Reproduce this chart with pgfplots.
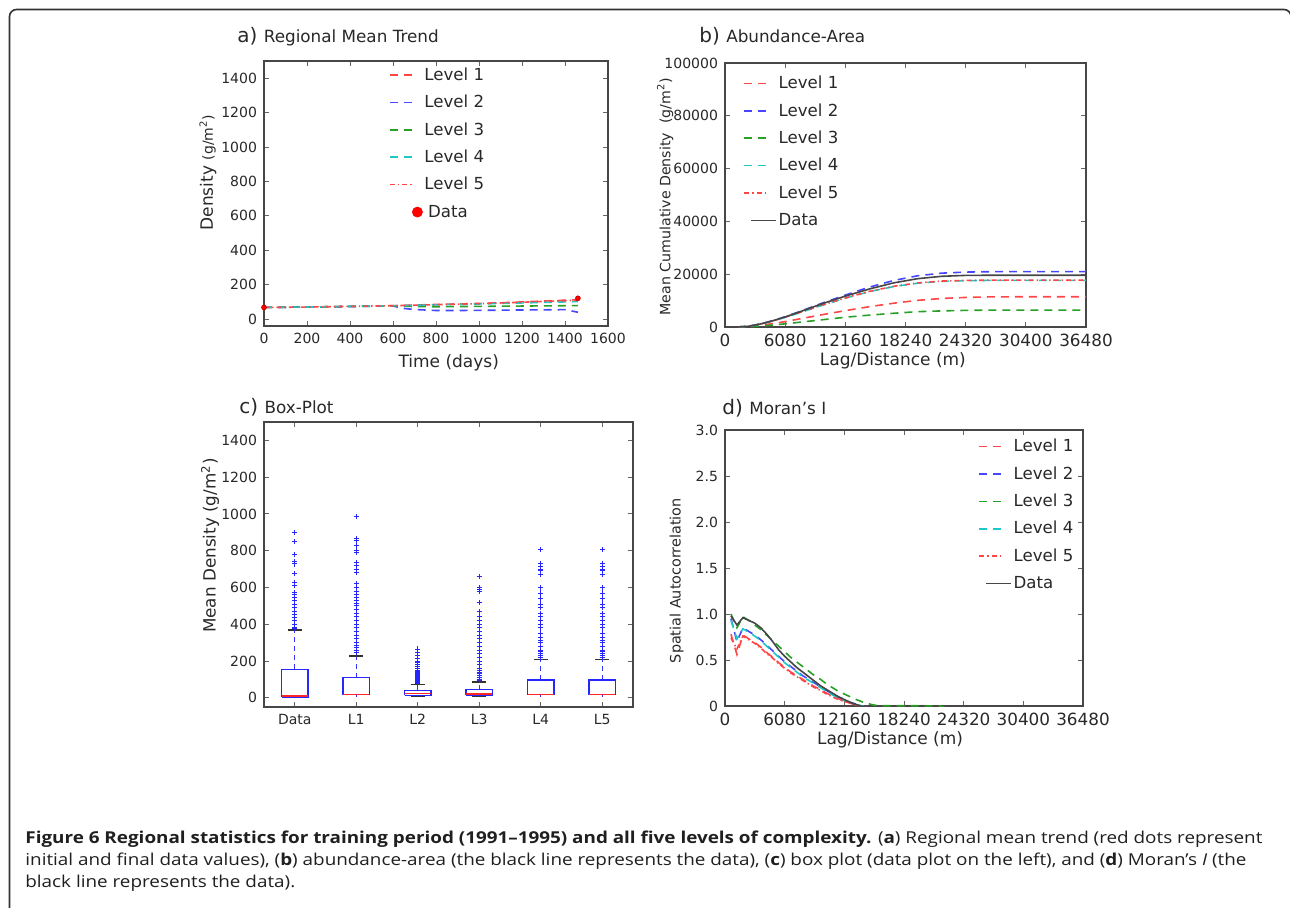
\documentclass[border=0pt]{standalone}
\usepackage{fontspec}
\setmainfont{DejaVu Sans}
\newfontfamily\capfont{Open Sans}
\usepackage{graphicx}
\usepackage{pgfplots}
\pgfplotsset{compat=1.18}
\definecolor{cL1}{RGB}{255,70,70}
\definecolor{cL2}{RGB}{70,70,255}
\definecolor{cL3}{RGB}{40,160,40}
\definecolor{cL4}{RGB}{30,200,200}
\definecolor{cL5}{RGB}{255,70,70}
\definecolor{cData}{RGB}{70,70,70}
\definecolor{txt}{RGB}{40,40,40}
\pgfplotsset{
  legend image code/.code={\path[draw=none,fill=none] (0pt,0pt) -- (17.3pt,0pt); \draw[#1] (0pt,0pt) -- (12.2pt,0pt);},
  every axis/.append style={
    scale only axis,
    axis line style={black!72, line width=0.75pt},
    tick style={black!60, line width=0.45pt},
    major tick length=2.5pt,
    tick align=inside,
    every tick label/.append style={font=\fontsize{7}{8}\selectfont, text=txt},
    /pgf/number format/assume math mode=true,
    /pgf/number format/fixed,
    /pgf/number format/1000 sep={},
    scaled ticks=false,
    label style={font=\fontsize{8.5}{10}\selectfont, text=txt},
    legend style={draw=none, fill=none, inner sep=0pt, outer sep=0pt,
      font=\fontsize{8.3}{10}\selectfont, row sep=6.5pt, column sep=0pt,
      nodes={inner sep=0pt, text height=6.2pt, text depth=1pt, text=txt}},
    legend cell align=left,
  },
  L1/.style={cL1, line width=0.8pt, dash pattern=on 4pt off 3pt},
  L2/.style={cL2, line width=0.8pt, dash pattern=on 4pt off 3pt},
  L3/.style={cL3, line width=0.8pt, dash pattern=on 4pt off 3pt},
  L4/.style={cL4, line width=0.8pt, dash pattern=on 4pt off 3pt},
  L5/.style={cL5, line width=0.8pt, dash pattern=on 2.5pt off 1.5pt on 0.7pt off 1.5pt},
  LD/.style={cData, line width=0.8pt},
  datalegend/.style={legend image code/.code={\path[draw=none,fill=none] (0pt,0pt) -- (17.3pt,0pt); \draw[cData, line width=0.8pt, solid] (3.5pt,0pt) -- (16pt,0pt);}},
  bx/.style={blue!85, line width=0.7pt, line join=miter},
  md/.style={red!85, line width=0.7pt},
  wk/.style={blue!80, line width=0.7pt, dash pattern=on 2.5pt off 2pt},
  cp/.style={black!80, line width=0.7pt},
  ol/.style={only marks, mark=+, mark size=1.3pt, mark options={blue!85, line width=0.5pt}},
}
\newlength\caplen
\newcommand\lineone{{\bfseries Figure 6 Regional statistics for training period (1991–1995) and all five levels of complexity.} ({\bfseries a}) Regional mean trend (red dots represent}
\newcommand\linetwo{initial and final data values), ({\bfseries b}) abundance-area (the black line represents the data), ({\bfseries c}) box plot (data plot on the left), and ({\bfseries d}) Moran’s {\itshape I} (the}
\newcommand\linethree{black line represents the data).}
\newcommand\capfs{\capfont\fontsize{8.2}{9}\selectfont}
\begin{document}
\settowidth\caplen{\capfs\lineone}%
\pgfmathsetmacro\capscale{618.5pt/\caplen}%
\begin{tikzpicture}[x=0.5pt, y=0.5pt]
\useasboundingbox (0,0) rectangle (1290,907);
% frame
\draw[line width=0.8pt, black!80, rounded corners=3.5pt] (9.5,-10) -- (9.5,897.5) -- (1291,897.5) -- (1291,-10);
% titles
\node[anchor=base west, inner sep=0, text=txt] at (237,864) {{\fontsize{10}{12}\selectfont a)} {\fontsize{8.4}{10}\selectfont Regional Mean Trend}};
\node[anchor=base west, inner sep=0, text=txt] at (699,864) {{\fontsize{10}{12}\selectfont b)} {\fontsize{8.4}{10}\selectfont Abundance-Area}};
\node[anchor=base west, inner sep=0, text=txt] at (239,494) {{\fontsize{10}{12}\selectfont c)} {\fontsize{8.4}{10}\selectfont Box-Plot}};
\node[anchor=base west, inner sep=0, text=txt] at (722,493) {{\fontsize{10}{12}\selectfont d)} {\fontsize{8.4}{10}\selectfont Moran's I}};
% caption
\node[anchor=base west, inner sep=0, text=black!88] at (25,64) {\scalebox{\capscale}[1]{\capfs\lineone}};
\node[anchor=base west, inner sep=0, text=black!88] at (25,42) {\scalebox{\capscale}[1]{\capfs\linetwo}};
\node[anchor=base west, inner sep=0, text=black!88] at (25,20) {\scalebox{\capscale}[1]{\capfs\linethree}};

%%%%% a
\begin{axis}[at={(132pt,290.5pt)}, anchor=south west, width=172pt, height=132.5pt,
  xmin=0, xmax=1600, ymin=-40, ymax=1500,
  xtick={0,200,...,1600}, ytick={0,200,...,1400},
  xlabel={Time (days)},
  ylabel={Density {\fontsize{7}{8}\selectfont(g/m\textsuperscript{2})}},
  xlabel style={at={(axis description cs:0.537,-0.14)}, anchor=center},
  ylabel style={at={(axis description cs:-0.163,0.579)}, anchor=center},
  legend style={at={(0.3634,0.974)}, anchor=north west}]
\addplot[L1] coordinates {(0,68)(100,69)(200,70)(300,72)(400,74)(500,76)(600,78)(700,82)(800,85)(900,88)(1000,91)(1100,95)(1200,100)(1300,105)(1400,110)(1460,113)};
\addlegendentry{Level 1}
\addplot[L2] coordinates {(0,68)(100,69)(200,70)(300,71)(400,73)(500,75)(600,76)(650,62)(700,56)(800,50)(900,50)(1000,51)(1100,52)(1200,53)(1300,54)(1400,55)(1460,40)};
\addlegendentry{Level 2}
\addplot[L3] coordinates {(0,68)(100,69)(200,70)(300,72)(400,74)(500,75)(600,77)(700,73)(800,72)(900,73)(1000,74)(1100,75)(1200,76)(1300,77)(1400,78)(1460,78)};
\addlegendentry{Level 3}
\addplot[L4] coordinates {(0,68)(100,69)(200,70)(300,72)(400,74)(500,76)(600,78)(700,80)(800,83)(900,86)(1000,88)(1100,91)(1200,94)(1300,97)(1400,100)(1460,102)};
\addlegendentry{Level 4}
\addplot[L5] coordinates {(0,68)(100,69)(200,70)(300,72)(400,74)(500,76)(600,78)(700,81)(800,84)(900,87)(1000,90)(1100,94)(1200,98)(1300,103)(1400,107)(1460,110)};
\addlegendentry{Level 5}
\addplot[only marks, mark=*, mark size=1.2pt, red, mark options={draw=red!80!black, fill=red},
  legend image code/.code={\path[draw=none,fill=none] (0pt,0pt) -- (17.3pt,0pt); \fill[red] (13.8pt,0pt) circle (2.5pt);}]
  coordinates {(0,68)(1460,121)};
\addlegendentry{\hspace{1.9pt}Data}
\end{axis}

%%%%% b
\begin{axis}[at={(362.5pt,290pt)}, anchor=south west, width=180.5pt, height=132pt,
  xmin=0, xmax=36480, ymin=0, ymax=100000,
  xtick={0,6080,12160,18240,24320,30400,36480},
  ytick={0,20000,40000,60000,80000,100000},
  xticklabel style={font=\fontsize{8.4}{9}\selectfont},
  xlabel={Lag/Distance (m)},
  ylabel={Mean Cumulative Density\ \ (g/m\textsuperscript{2})},
  ylabel style={font=\fontsize{7.1}{8}\selectfont, at={(axis description cs:-0.166,0.494)}, anchor=center},
  xlabel style={at={(axis description cs:0.465,-0.128)}, anchor=center},
  legend style={at={(0.0507,0.950)}, anchor=north west}]
\addplot[L1] coordinates {(1216,0)(2432,180)(3648,650)(4864,1300)(6080,2050)(7296,2900)(9728,4600)(12160,6200)(14592,7700)(17024,9000)(19456,10100)(21888,10800)(24320,11200)(26752,11400)(29184,11450)(36480,11450)};
\addlegendentry{Level 1}
\addplot[L2] coordinates {(1216,0)(2432,300)(3648,1200)(4864,2450)(6080,3900)(7296,5500)(9728,8900)(12160,12100)(14592,15100)(17024,17600)(19456,19400)(21888,20400)(24320,20800)(26752,20950)(29184,20950)(36480,20950)};
\addlegendentry{Level 2}
\addplot[L3] coordinates {(1216,0)(2432,100)(3648,380)(4864,750)(6080,1200)(7296,1700)(9728,2700)(12160,3700)(14592,4500)(17024,5200)(19456,5800)(21888,6100)(24320,6300)(26752,6400)(29184,6400)(36480,6400)};
\addlegendentry{Level 3}
\addplot[L4] coordinates {(1216,0)(2432,280)(3648,1150)(4864,2300)(6080,3650)(7296,5100)(9728,8100)(12160,10900)(14592,13400)(17024,15300)(19456,16600)(21888,17300)(24320,17550)(26752,17650)(29184,17650)(36480,17650)};
\addlegendentry{Level 4}
\addplot[L5] coordinates {(1216,0)(2432,290)(3648,1170)(4864,2350)(6080,3700)(7296,5200)(9728,8200)(12160,11000)(14592,13500)(17024,15400)(19456,16700)(21888,17400)(24320,17650)(26752,17750)(29184,17750)(36480,17750)};
\addlegendentry{Level 5}
\addplot[LD, datalegend] coordinates {(1216,0)(2432,300)(3648,1200)(4864,2400)(6080,3800)(7296,5400)(9728,8700)(12160,11700)(14592,14400)(17024,16700)(19456,18300)(21888,19200)(24320,19550)(26752,19600)(29184,19600)(36480,19600)};
\addlegendentry{Data}
\end{axis}

%%%%% c
\begin{axis}[at={(132pt,100pt)}, anchor=south west, width=184.5pt, height=142.5pt,
  xmin=0.5, xmax=6.5, ymin=-50, ymax=1500,
  xtick={1,2,3,4,5,6}, xticklabels={Data,L1,L2,L3,L4,L5},
  ytick={0,200,...,1400},
  ylabel={Mean Density (g/m\textsuperscript{2})},
  ylabel style={font=\fontsize{8.4}{10}\selectfont, at={(axis description cs:-0.146,0.566)}, anchor=center}]
% Data
\addplot[wk] coordinates {(1,155)(1,369)};
\addplot[wk] coordinates {(1,1)(1,5)};
\addplot[bx] coordinates {(0.785,5)(1.215,5)(1.215,155)(0.785,155)(0.785,5)};
\addplot[md] coordinates {(0.785,9)(1.215,9)};
\addplot[cp] coordinates {(0.885,369)(1.115,369)};
\addplot[ol] coordinates {(1,900)(1,850)(1,780)(1,740)(1,728)(1,675)(1,628)(1,610)(1,572)(1,560)(1,545)(1,530)(1,510)(1,490)(1,470)(1,455)(1,435)(1,420)(1,400)(1,385)(1,378)};
% L1
\addplot[wk] coordinates {(2,109)(2,227)};
\addplot[wk] coordinates {(2,5)(2,18)};
\addplot[bx] coordinates {(1.785,18)(2.215,18)(2.215,109)(1.785,109)(1.785,18)};
\addplot[md] coordinates {(1.785,18)(2.215,18)};
\addplot[cp] coordinates {(1.885,227)(2.115,227)};
\addplot[ol] coordinates {(2,985)(2,868)(2,858)(2,830)(2,800)(2,790)(2,735)(2,720)(2,700)(2,680)(2,620)(2,600)(2,580)(2,560)(2,545)(2,530)(2,515)(2,500)(2,480)(2,460)(2,440)(2,420)(2,400)(2,380)(2,360)(2,340)(2,320)(2,300)(2,285)(2,275)(2,260)(2,245)};
% L2
\addplot[wk] coordinates {(3,40)(3,73)};
\addplot[wk] coordinates {(3,8)(3,14)};
\addplot[bx] coordinates {(2.785,14)(3.215,14)(3.215,40)(2.785,40)(2.785,14)};
\addplot[md] coordinates {(2.785,22)(3.215,22)};
\addplot[cp] coordinates {(2.885,73)(3.115,73)};
\addplot[cp] coordinates {(2.885,8)(3.115,8)};
\addplot[ol] coordinates {(3,265)(3,245)(3,230)(3,215)(3,200)(3,190)(3,180)(3,170)(3,160)(3,150)(3,145)(3,140)(3,135)(3,130)(3,125)(3,120)(3,115)(3,110)(3,105)(3,100)(3,95)(3,90)(3,85)(3,80)};
% L3
\addplot[wk] coordinates {(4,45)(4,87)};
\addplot[wk] coordinates {(4,8)(4,14)};
\addplot[bx] coordinates {(3.785,14)(4.215,14)(4.215,45)(3.785,45)(3.785,14)};
\addplot[md] coordinates {(3.785,20)(4.215,20)};
\addplot[cp] coordinates {(3.885,87)(4.115,87)};
\addplot[cp] coordinates {(3.885,8)(4.115,8)};
\addplot[ol] coordinates {(4,660)(4,600)(4,590)(4,580)(4,520)(4,470)(4,440)(4,420)(4,400)(4,380)(4,360)(4,340)(4,320)(4,300)(4,280)(4,260)(4,240)(4,220)(4,200)(4,180)(4,160)(4,150)(4,140)(4,130)(4,120)(4,110)(4,100)(4,95)};
% L4
\addplot[wk] coordinates {(5,96)(5,209)};
\addplot[wk] coordinates {(5,5)(5,18)};
\addplot[bx] coordinates {(4.785,18)(5.215,18)(5.215,96)(4.785,96)(4.785,18)};
\addplot[md] coordinates {(4.785,18)(5.215,18)};
\addplot[cp] coordinates {(4.885,209)(5.115,209)};
\addplot[ol] coordinates {(5,805)(5,730)(5,715)(5,700)(5,690)(5,670)(5,600)(5,570)(5,540)(5,510)(5,490)(5,460)(5,440)(5,420)(5,400)(5,380)(5,350)(5,330)(5,310)(5,300)(5,280)(5,260)(5,250)(5,240)(5,230)(5,220)};
% L5
\addplot[wk] coordinates {(6,96)(6,209)};
\addplot[wk] coordinates {(6,5)(6,18)};
\addplot[bx] coordinates {(5.785,18)(6.215,18)(6.215,96)(5.785,96)(5.785,18)};
\addplot[md] coordinates {(5.785,18)(6.215,18)};
\addplot[cp] coordinates {(5.885,209)(6.115,209)};
\addplot[ol] coordinates {(6,805)(6,730)(6,715)(6,700)(6,690)(6,670)(6,600)(6,570)(6,540)(6,510)(6,490)(6,460)(6,440)(6,420)(6,400)(6,380)(6,350)(6,330)(6,310)(6,300)(6,280)(6,260)(6,250)(6,240)(6,230)(6,220)};
\end{axis}

%%%%% d
\begin{axis}[at={(362.5pt,100.5pt)}, anchor=south west, width=179pt, height=138pt,
  xmin=0, xmax=36480, ymin=0, ymax=3,
  xtick={0,6080,12160,18240,24320,30400,36480},
  ytick={0,0.5,1,1.5,2,2.5,3}, yticklabels={0,0.5,1.0,1.5,2.0,2.5,3.0},
  xticklabel style={font=\fontsize{8.4}{9}\selectfont},
  xlabel={Lag/Distance (m)},
  ylabel={Spatial Autocorrelation},
  ylabel style={font=\fontsize{7.2}{8}\selectfont, at={(axis description cs:-0.135,0.454)}, anchor=center},
  xlabel style={at={(axis description cs:0.461,-0.123)}, anchor=center},
  legend style={at={(0.7075,0.966)}, anchor=north west}]
\addplot[L1] coordinates {(608,0.78)(1216,0.56)(1824,0.77)(2432,0.73)(3040,0.69)(3648,0.64)(4256,0.58)(4864,0.53)(5472,0.47)(6080,0.42)(6688,0.37)(7296,0.33)(7904,0.29)(8512,0.25)(9120,0.21)(9728,0.18)(10336,0.14)(10944,0.11)(11552,0.08)(12160,0.05)(12768,0.03)(13376,0.01)(13984,0.0)(14592,-0.02)(36480,-0.05)};
\addlegendentry{Level 1}
\addplot[L2] coordinates {(608,0.95)(1216,0.70)(1824,0.85)(2432,0.81)(3040,0.77)(3648,0.72)(4256,0.66)(4864,0.60)(5472,0.54)(6080,0.48)(6688,0.43)(7296,0.38)(7904,0.33)(8512,0.29)(9120,0.25)(9728,0.21)(10336,0.17)(10944,0.13)(11552,0.10)(12160,0.07)(12768,0.04)(13376,0.02)(13984,0.0)(14592,-0.02)(36480,-0.05)};
\addlegendentry{Level 2}
\addplot[L3] coordinates {(608,1.0)(1216,0.85)(1824,0.97)(2432,0.93)(3040,0.88)(3648,0.83)(4256,0.77)(4864,0.71)(5472,0.65)(6080,0.59)(6688,0.53)(7296,0.48)(7904,0.43)(8512,0.38)(9120,0.33)(9728,0.29)(10336,0.24)(10944,0.20)(11552,0.16)(12160,0.13)(12768,0.10)(13376,0.07)(13984,0.045)(14592,0.025)(15200,0.01)(15808,0.003)(21888,0.002)(22500,-0.02)(36480,-0.03)};
\addlegendentry{Level 3}
\addplot[L4] coordinates {(608,0.93)(1216,0.73)(1824,0.84)(2432,0.80)(3040,0.76)(3648,0.71)(4256,0.65)(4864,0.59)(5472,0.53)(6080,0.47)(6688,0.42)(7296,0.37)(7904,0.32)(8512,0.28)(9120,0.24)(9728,0.20)(10336,0.16)(10944,0.12)(11552,0.09)(12160,0.06)(12768,0.035)(13376,0.015)(13984,0.0)(14592,-0.02)(36480,-0.05)};
\addlegendentry{Level 4}
\addplot[L5] coordinates {(608,0.74)(1216,0.62)(1824,0.76)(2432,0.72)(3040,0.68)(3648,0.63)(4256,0.57)(4864,0.52)(5472,0.46)(6080,0.41)(6688,0.36)(7296,0.32)(7904,0.28)(8512,0.24)(9120,0.20)(9728,0.17)(10336,0.13)(10944,0.10)(11552,0.07)(12160,0.05)(12768,0.03)(13376,0.01)(13984,0.0)(14592,-0.02)(36480,-0.05)};
\addlegendentry{Level 5}
\addplot[LD, datalegend] coordinates {(608,0.98)(1216,0.88)(1824,0.96)(2432,0.93)(3040,0.90)(3648,0.85)(4256,0.78)(4864,0.70)(5472,0.61)(6080,0.54)(6688,0.48)(7296,0.42)(7904,0.37)(8512,0.32)(9120,0.27)(9728,0.22)(10336,0.18)(10944,0.14)(11552,0.10)(12160,0.07)(12768,0.04)(13376,0.015)(13984,-0.005)(14592,-0.02)(36480,-0.05)};
\addlegendentry{Data}
\end{axis}
\end{tikzpicture}
\end{document}
